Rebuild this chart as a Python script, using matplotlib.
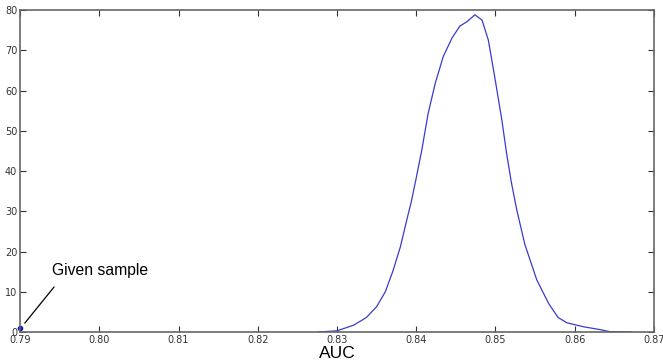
import matplotlib
matplotlib.use("Agg")
import matplotlib.pyplot as plt

# density curve of AUC values
auc = [0.8276, 0.8300, 0.8321, 0.8337, 0.8350, 0.8361, 0.8371, 0.8380, 0.8388,
       0.8394, 0.8400, 0.8407, 0.8415, 0.8424, 0.8434, 0.8445, 0.8455, 0.8464,
       0.8474, 0.8483, 0.8491, 0.8499, 0.8508, 0.8514, 0.8520, 0.8527, 0.8537,
       0.8552, 0.8567, 0.8579, 0.8590, 0.8611, 0.8632, 0.8644, 0.8672]
density = [0.0, 0.3, 1.7, 3.6, 6.3, 10.0, 15.4, 21.2, 27.8,
           32.6, 38.3, 45.2, 54.3, 61.8, 68.4, 73.0, 76.0, 77.1,
           78.8, 77.5, 72.5, 63.4, 52.7, 44.4, 37.2, 30.2, 21.8,
           13.0, 7.1, 3.6, 2.3, 1.3, 0.6, 0.1, 0.0]

sample_x = 0.79
sample_y = 1.0
xticks = [0.79, 0.80, 0.81, 0.82, 0.83, 0.84, 0.85, 0.86, 0.87]
yticks = [0, 10, 20, 30, 40, 50, 60, 70, 80]


def main():
    fig = plt.figure(figsize=(6.63, 3.61), dpi=100, facecolor="w")
    ax = fig.add_axes([0.0302, 0.0803, 0.9562, 0.892])

    ax.plot(auc, density, color="#3a3ad0", linewidth=0.9)
    ax.plot([sample_x], [sample_y], "o", color="#1010c0", markersize=3, clip_on=False)

    # pointer line and label for the given sample
    ax.annotate("", xy=(0.7906, 2.2), xytext=(0.7943, 11.2),
                arrowprops=dict(arrowstyle="-", color="k", linewidth=0.9,
                                shrinkA=0, shrinkB=0))
    ax.text(0.7940, 15.4, "Given sample", fontsize=11.3, family="Liberation Sans",
            ha="left", va="center")

    ax.set_xlim(0.79, 0.87)
    ax.set_ylim(0, 80)
    ax.set_xticks(xticks)
    ax.set_xticklabels(["%.2f" % t for t in xticks])
    ax.set_yticks(yticks)
    ax.tick_params(direction="in", top=True, right=True, length=4,
                   labelsize=7, colors="#333333", pad=2)
    for s in ax.spines.values():
        s.set_color("#666666")
        s.set_linewidth(1.2)
    ax.set_xlabel("AUC", fontsize=12.5, family="Liberation Sans", labelpad=1)

    fig.savefig("out.png")
    plt.close(fig)


if __name__ == "__main__":
    main()
